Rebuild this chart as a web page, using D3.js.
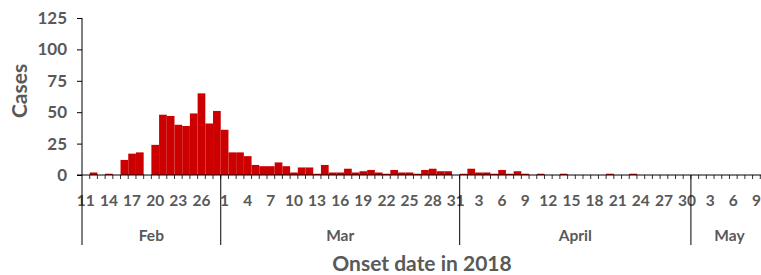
<!DOCTYPE html>
<html lang="en">
<head>
    <meta charset="UTF-8">
    <title>Onset date epicurve</title>
    <script src="https://d3js.org/d3.v7.min.js"></script>
    <style>
        body { margin: 0; background: #fff; }
        text { font-family: Lato, "Open Sans", sans-serif; font-weight: bold; fill: #595959; }
    </style>
</head>
<body>
<svg id="chart" width="761" height="275"></svg>
<script>
    // daily case counts, one value per day starting at 2018-02-11
    var firstDay = "2018-02-11";
    var cases = [
        0, 2, 0, 1, 0, 12, 17, 18, 0, 24, 48, 47, 40, 39, 49, 65, 41, 51,        // Feb 11-28
        36, 18, 18, 15, 8, 7, 7, 10, 7, 2, 6, 6, 1, 8, 2, 2, 5, 2, 3, 4, 2, 1,    // Mar 1-22
        4, 2, 2, 1, 4, 5, 3, 3, 0,                                               // Mar 23-31
        1, 5, 2, 2, 1, 4, 1, 3, 1, 0, 1, 0, 0, 1, 0, 0, 0, 0, 0, 1, 0, 0, 1,     // Apr 1-23
        0, 0, 0, 0, 0, 0, 0,                                                     // Apr 24-30
        0, 0, 0, 0, 0, 0, 0, 0, 0                                                // May 1-9
    ];
    var monthNames = ["Feb", "Mar", "April", "May"];
    var monthStarts = ["2018-02-11", "2018-03-01", "2018-04-01", "2018-05-01"];
    var lastDay = "2018-05-11"; // exclusive end of the axis (runs past the picture edge)
    var yTicks = [0, 25, 50, 75, 100, 125];

    var parse = d3.utcParse("%Y-%m-%d");
    var start = parse(firstDay);
    var data = cases.map(function (v, i) {
        return {date: d3.utcDay.offset(start, i), value: v};
    });

    var svg = d3.select("#chart");
    var plotLeft = 82, plotRight = 768, plotTop = 18, plotBottom = 175;

    var x = d3.scaleUtc()
        .domain([start, parse(lastDay)])
        .range([plotLeft, plotRight]);
    var y = d3.scaleLinear()
        .domain([0, 125])
        .range([plotBottom, plotTop]);

    // bars
    svg.append("g")
        .selectAll("rect")
        .data(data)
        .enter().append("rect")
        .attr("x", function (d) { return x(d.date); })
        .attr("width", function (d) { return x(d3.utcDay.offset(d.date, 1)) - x(d.date); })
        .attr("y", function (d) { return y(d.value); })
        .attr("height", function (d) { return plotBottom - y(d.value); })
        .attr("fill", "#cc0000");

    // y axis
    var yAxis = d3.axisLeft(y).tickValues(yTicks).tickSize(5).tickPadding(10);
    var gy = svg.append("g").attr("transform", "translate(" + plotLeft + ",0)").call(yAxis);
    gy.select(".domain").remove();
    gy.selectAll("line").attr("stroke", "#000");
    gy.selectAll("text").style("font-size", "17px").style("font-family", null).attr("fill", null);
    svg.append("line")
        .attr("x1", plotLeft).attr("x2", plotLeft)
        .attr("y1", plotTop).attr("y2", plotBottom)
        .attr("stroke", "#000");

    // x axis line with a small tick for each day
    svg.append("line")
        .attr("x1", plotLeft - 5).attr("x2", plotRight)
        .attr("y1", plotBottom).attr("y2", plotBottom)
        .attr("stroke", "#000");
    var days = d3.utcDay.range(start, parse(lastDay));
    svg.append("g")
        .selectAll("line")
        .data(days.slice(1))
        .enter().append("line")
        .attr("x1", function (d) { return x(d); })
        .attr("x2", function (d) { return x(d); })
        .attr("y1", plotBottom).attr("y2", plotBottom + 4)
        .attr("stroke", "#000")
        .attr("stroke-width", 0.8);

    // day labels every third day
    svg.append("g")
        .selectAll("text")
        .data(days.filter(function (d, i) { return i % 3 === 0; }))
        .enter().append("text")
        .attr("x", function (d) { return (x(d) + x(d3.utcDay.offset(d, 1))) / 2; })
        .attr("y", 206)
        .attr("text-anchor", "middle")
        .style("font-size", "15.5px")
        .text(function (d) { return d.getUTCDate(); });

    // month separators and names
    var monthBounds = monthStarts.map(parse);
    svg.append("g")
        .selectAll("line")
        .data(monthBounds)
        .enter().append("line")
        .attr("x1", function (d) { return x(d); })
        .attr("x2", function (d) { return x(d); })
        .attr("y1", plotBottom).attr("y2", 245)
        .attr("stroke", "#000");
    svg.append("g")
        .selectAll("text")
        .data(monthNames)
        .enter().append("text")
        .attr("x", function (d, i) {
            var a = x(monthBounds[i]);
            var b = i + 1 < monthBounds.length ? x(monthBounds[i + 1]) : plotRight;
            return (a + b) / 2;
        })
        .attr("y", 241)
        .attr("text-anchor", "middle")
        .style("font-size", "15.5px")
        .text(function (d) { return d; });

    // axis titles
    svg.append("text")
        .attr("x", 422).attr("y", 271)
        .attr("text-anchor", "middle")
        .style("font-size", "21px")
        .text("Onset date in 2018");
    svg.append("text")
        .attr("transform", "translate(27,91) rotate(-90)")
        .attr("text-anchor", "middle")
        .style("font-size", "21px")
        .text("Cases");
</script>
</body>
</html>
